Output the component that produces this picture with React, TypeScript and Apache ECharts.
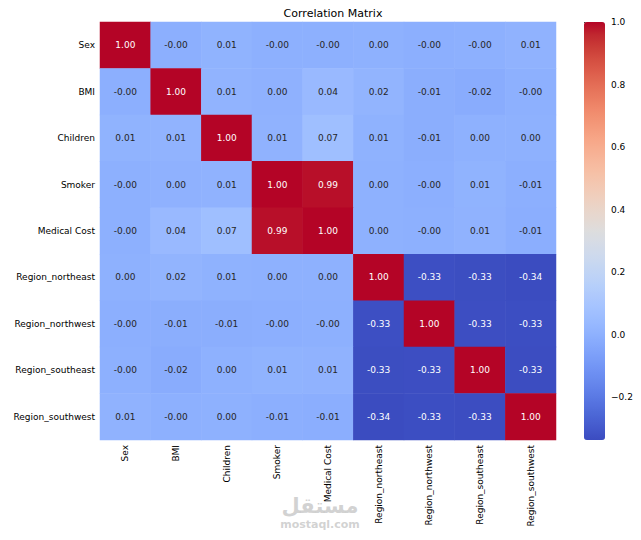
import React, { useEffect, useRef } from "react";
import * as echarts from "echarts";

// Feature names, shared by both axes of the correlation heatmap
const features = [
  "Sex",
  "BMI",
  "Children",
  "Smoker",
  "Medical Cost",
  "Region_northeast",
  "Region_northwest",
  "Region_southeast",
  "Region_southwest",
];

// Pearson correlations, one row per feature (symmetric)
const sexRow = [1.0, -0.004, 0.011, -0.002, -0.003, 0.002, -0.004, -0.003, 0.008];
const bmiRow = [-0.004, 1.0, 0.013, 0.004, 0.042, 0.018, -0.011, -0.018, -0.003];
const childrenRow = [0.011, 0.013, 1.0, 0.008, 0.067, 0.006, -0.009, 0.003, 0.001];
const smokerRow = [-0.002, 0.004, 0.008, 1.0, 0.987, 0.002, -0.004, 0.011, -0.007];
const costRow = [-0.003, 0.042, 0.067, 0.987, 1.0, 0.003, -0.002, 0.009, -0.008];
const northeastRow = [0.002, 0.018, 0.006, 0.002, 0.003, 1.0, -0.327, -0.331, -0.336];
const northwestRow = [-0.004, -0.011, -0.009, -0.004, -0.002, -0.327, 1.0, -0.329, -0.33];
const southeastRow = [-0.003, -0.018, 0.003, 0.011, 0.009, -0.331, -0.329, 1.0, -0.333];
const southwestRow = [0.008, -0.003, 0.001, -0.007, -0.008, -0.336, -0.33, -0.333, 1.0];

const correlations = [
  sexRow,
  bmiRow,
  childrenRow,
  smokerRow,
  costRow,
  northeastRow,
  northwestRow,
  southeastRow,
  southwestRow,
];

// Colour bar tick values
const colorbarTicks = [-0.2, 0, 0.2, 0.4, 0.6, 0.8, 1.0];

// Diverging "coolwarm" palette, evenly spaced stops
const coolwarm = [
  [59, 76, 192], [68, 90, 204], [77, 104, 215], [87, 117, 225],
  [98, 130, 234], [108, 142, 241], [119, 154, 247], [130, 165, 251],
  [141, 176, 254], [152, 185, 255], [163, 194, 255], [174, 201, 253],
  [184, 208, 249], [194, 213, 244], [204, 217, 238], [213, 219, 230],
  [221, 221, 221], [229, 216, 209], [236, 211, 197], [241, 204, 184],
  [245, 196, 172], [247, 187, 160], [247, 177, 148], [247, 166, 135],
  [244, 154, 123], [241, 141, 111], [236, 127, 99], [229, 112, 88],
  [222, 96, 77], [213, 80, 66], [203, 62, 56], [192, 40, 47],
  [180, 4, 38],
].map(([r, g, b]) => `rgb(${r},${g},${b})`);

const FONT = "DejaVu Sans";

export default function App() {
  const ref = useRef<HTMLDivElement>(null);

  useEffect(() => {
    if (!ref.current) return;
    const chart = echarts.init(ref.current, undefined, { renderer: "svg" });

    const all = correlations.flat();
    const vMin = Math.min(...all);
    const vMax = Math.max(...all);

    const cells = [] as any[];
    correlations.forEach((row, yi) => {
      row.forEach((v, xi) => {
        const light = v >= 0.9 || v <= -0.3;
        cells.push({
          value: [xi, yi, v],
          label: { color: light ? "#ffffff" : "#262626" },
        });
      });
    });

    const gridLeft = 100;
    const gridTop = 22;
    const gridWidth = 456;
    const gridHeight = 418;
    const barLeft = 584;
    const barWidth = 21;

    chart.setOption({
      animation: false,
      backgroundColor: "#ffffff",
      title: {
        text: "Correlation Matrix",
        left: gridLeft + gridWidth / 2,
        top: 3,
        textAlign: "center",
        textStyle: {
          fontFamily: FONT,
          fontSize: 11,
          fontWeight: "normal",
          color: "#000",
        },
      },
      grid: [
        { left: gridLeft, top: gridTop, width: gridWidth, height: gridHeight },
        { left: barLeft, top: gridTop, width: barWidth, height: gridHeight },
      ],
      xAxis: [
        {
          type: "category",
          gridIndex: 0,
          data: features,
          axisLine: { show: false },
          axisTick: {
            alignWithLabel: true,
            length: 3.5,
            lineStyle: { color: "#000", width: 0.8 },
          },
          axisLabel: {
            rotate: 90,
            interval: 0,
            margin: 5,
            fontFamily: FONT,
            fontSize: 9,
            color: "#000",
          },
          splitLine: { show: false },
        },
        { type: "value", gridIndex: 1, show: false, min: 0, max: 1 },
      ],
      yAxis: [
        {
          type: "category",
          gridIndex: 0,
          data: features,
          inverse: true,
          axisLine: { show: false },
          axisTick: {
            alignWithLabel: true,
            length: 3.5,
            lineStyle: { color: "#000", width: 0.8 },
          },
          axisLabel: {
            interval: 0,
            margin: 5,
            fontFamily: FONT,
            fontSize: 9,
            color: "#000",
          },
          splitLine: { show: false },
        },
        {
          type: "value",
          gridIndex: 1,
          position: "right",
          min: vMin,
          max: vMax,
          axisLine: { show: false },
          splitLine: { show: false },
          axisTick: {
            show: true,
            length: 3.5,
            customValues: colorbarTicks,
            lineStyle: { color: "#000", width: 0.8 },
          },
          axisLabel: {
            customValues: colorbarTicks,
            margin: 6,
            fontFamily: FONT,
            fontSize: 9,
            color: "#000",
            formatter: (v: number) =>
              (v < -1e-9 ? "\u2212" : "") + Math.abs(v).toFixed(1),
          },
        },
      ],
      visualMap: {
        type: "continuous",
        seriesIndex: 0,
        min: vMin,
        max: vMax,
        calculable: false,
        hoverLink: false,
        left: barLeft,
        top: gridTop,
        padding: 0,
        itemWidth: barWidth,
        itemHeight: gridHeight,
        text: ["", ""],
        showLabel: false,
        inRange: { color: coolwarm },
      },
      series: [
        {
          type: "heatmap",
          xAxisIndex: 0,
          yAxisIndex: 0,
          data: cells,
          label: {
            show: true,
            fontFamily: FONT,
            fontSize: 9,
            formatter: (p: any) => (p.value[2] as number).toFixed(2),
          },
          itemStyle: { borderWidth: 0 },
          emphasis: { disabled: true },
        },
      ],
      graphic: [
        {
          type: "text",
          x: 320,
          y: 516,
          style: {
            text: "مستقل",
            fontFamily: FONT,
            fontWeight: "bold",
            fontSize: 21,
            fill: "rgba(190,190,190,0.7)",
            align: "center",
            verticalAlign: "bottom",
          },
        },
        {
          type: "text",
          x: 320,
          y: 519,
          style: {
            text: "mostaql.com",
            fontFamily: FONT,
            fontWeight: "bold",
            fontSize: 11,
            fill: "rgba(190,190,190,0.7)",
            align: "center",
            verticalAlign: "top",
          },
        },
      ],
    });

    return () => chart.dispose();
  }, []);

  return (
    <div
      ref={ref}
      style={{ position: "fixed", left: 0, top: 0, width: 641, height: 540 }}
    />
  );
}
